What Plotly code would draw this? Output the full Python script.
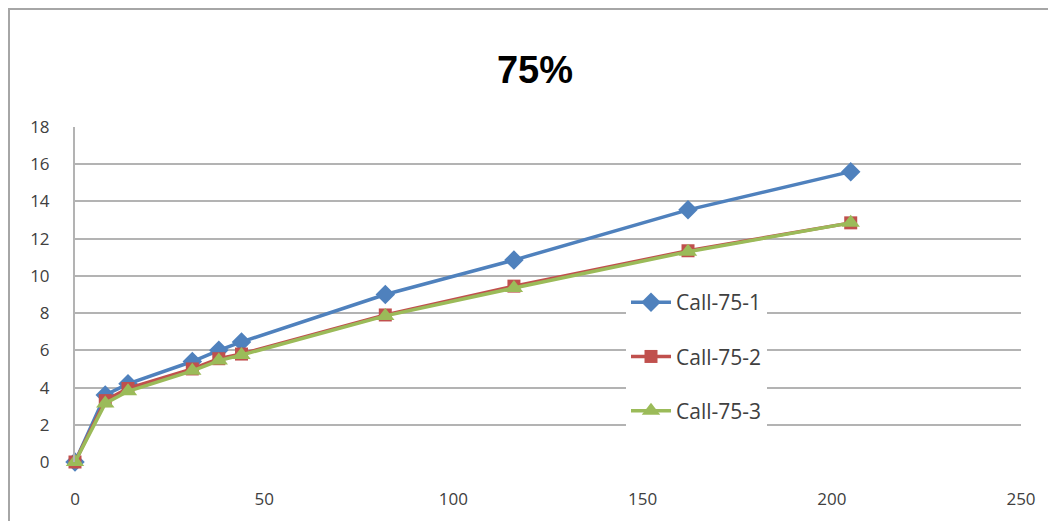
import plotly.graph_objects as go

x_vals = [0, 8, 14, 31, 38, 44, 82, 116, 162, 205]
call_1 = [0, 3.6, 4.2, 5.4, 6.0, 6.45, 9.0, 10.85, 13.55, 15.6]
call_2 = [0, 3.3, 3.95, 5.0, 5.55, 5.8, 7.9, 9.45, 11.35, 12.85]
call_3 = [0, 3.15, 3.8, 4.9, 5.45, 5.75, 7.85, 9.35, 11.3, 12.85]
names = ["Call-75-1", "Call-75-2", "Call-75-3"]
colors = ["#4F81BD", "#C0504D", "#9BBB59"]
symbols = ["diamond", "square", "triangle-up"]
msizes = [15, 13, 16]
x_ticks = [0, 50, 100, 150, 200, 250]
y_ticks = [0, 2, 4, 6, 8, 10, 12, 14, 16, 18]

# page has an 8px body margin; figure is placed at (8, 8)
OFF = 8
W, H = 1056 - OFF, 521 - OFF
L, R, T, B = 75 - OFF, 35, 127 - OFF, 59

fig = go.Figure()
for i, ys in enumerate([call_1, call_2, call_3]):
    fig.add_trace(go.Scatter(
        x=x_vals, y=ys, mode="lines+markers", name=names[i],
        legendgroup=names[i], cliponaxis=False,
        line=dict(color=colors[i], width=3.5),
        marker=dict(symbol=symbols[i], size=msizes[i], color=colors[i]),
    ))

pw = W - L - R
ph = H - T - B
def px_x(p):  # page pixel -> paper
    return (p - OFF - L) / pw
def px_y(p):
    return (H - B - (p - OFF)) / ph

fig.add_shape(type="rect", xref="paper", yref="paper",
              x0=px_x(9), x1=px_x(1070), y0=px_y(540), y1=px_y(9),
              line=dict(color="#a6a6a6", width=2), fillcolor="rgba(0,0,0,0)", layer="below")

fig.update_layout(
    width=W, height=H,
    margin=dict(l=L, r=R, t=T, b=B),
    paper_bgcolor="white", plot_bgcolor="white",
    font=dict(family="Open Sans, Liberation Sans, sans-serif", color="#404040", size=17),
    title=dict(text="<b>75%</b>", x=(535 - OFF) / W, xanchor="center", y=1 - (70 - OFF) / H, yanchor="middle",
               font=dict(size=38, color="#000000", family="Liberation Sans, Arial, sans-serif")),
    showlegend=True,
    legend=dict(x=px_x(626), y=px_y(282), xanchor="left", yanchor="top",
                bgcolor="white", borderwidth=0, tracegroupgap=24,
                font=dict(size=21, color="#404040"), itemwidth=40),
    xaxis=dict(range=[0, 250], tickvals=x_ticks, showgrid=False, zeroline=False,
               showline=False, ticks="outside", ticklen=22, tickcolor="rgba(0,0,0,0)",
               tickfont=dict(size=17)),
    yaxis=dict(range=[0, 18], tickvals=y_ticks, showgrid=True, gridcolor="#b3b3b3", gridwidth=2,
               zeroline=False, showline=True, linecolor="#b3b3b3", linewidth=2,
               ticks="outside", ticklen=20, tickcolor="rgba(0,0,0,0)", tickfont=dict(size=17)),
)

fig.write_html("out.html")
